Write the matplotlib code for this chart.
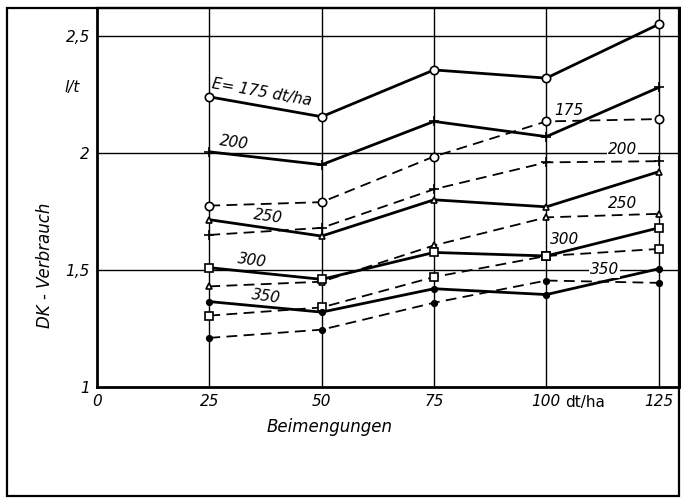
import numpy as np
import matplotlib.pyplot as plt
from matplotlib.patches import Rectangle

# Beimengungen (dt/ha)
x = [25, 50, 75, 100, 125]
ernte = ['175', '200', '250', '300', '350']

# DK-Verbrauch l/t, ausgezogene Linien
solid = {
    '175': [2.24, 2.155, 2.355, 2.32, 2.55],
    '200': [2.005, 1.95, 2.135, 2.07, 2.28],
    '250': [1.715, 1.645, 1.80, 1.77, 1.92],
    '300': [1.51, 1.46, 1.575, 1.56, 1.68],
    '350': [1.365, 1.32, 1.42, 1.395, 1.505],
}
# gestrichelte Linien
dashed = {
    '175': [1.775, 1.79, 1.985, 2.135, 2.145],
    '200': [1.65, 1.68, 1.845, 1.96, 1.965],
    '250': [1.43, 1.45, 1.605, 1.725, 1.74],
    '300': [1.305, 1.34, 1.47, 1.56, 1.59],
    '350': [1.21, 1.245, 1.36, 1.455, 1.445],
}

markers = {'175': 'o', '200': '+', '250': '^', '300': 's', '350': 'o'}
filled = {'175': False, '200': False, '250': False, '300': False, '350': True}
msize = {'175': 6, '200': 7, '250': 4.5, '300': 5.5, '350': 4}

plt.rcParams['font.family'] = ['Liberation Sans Narrow', 'DejaVu Sans']
plt.rcParams['font.style'] = 'italic'

fig = plt.figure(figsize=(6.81, 5.0), dpi=100)
ax = fig.add_axes([97/681, 1-387/500, 1-97/681-0.002, (387-8)/500])

# Rahmen aussen
fig.patches.append(Rectangle((7/681, 1-496/500), (679-7)/681, (496-8)/500,
                             transform=fig.transFigure, fill=False, lw=1.6, ec='k'))

for xv in x:
    ax.axvline(xv, color='k', lw=1.0, zorder=1)
for yv in [1.5, 2.0, 2.5]:
    ax.axhline(yv, color='k', lw=1.0, zorder=1)

for e in ernte:
    for data, ls, lw in [(solid[e], '-', 2.0), (dashed[e], (0, (6, 3.5)), 1.3)]:
        ax.plot(x, data, color='k', ls=ls, lw=lw, marker=markers[e], ms=msize[e],
                mfc='k' if filled[e] else 'white', mec='k', mew=1.2, zorder=3)

# Beschriftung der Kurven
box = dict(fc='white', ec='none', pad=0.5)
ax.text(36.6, 2.26, 'E= 175 dt/ha', rotation=-10, ha='center', va='center', fontsize=11, zorder=4)
ax.text(30.5, 2.045, '200', rotation=-8, ha='center', va='center', fontsize=11, zorder=4)
ax.text(38, 1.727, '250', rotation=-8, ha='center', va='center', fontsize=11, zorder=4)
ax.text(34.5, 1.54, '300', rotation=-8, ha='center', va='center', fontsize=11, zorder=4)
ax.text(37.7, 1.385, '350', rotation=-8, ha='center', va='center', fontsize=11, zorder=4)
ax.text(105, 2.18, '175', ha='center', va='center', fontsize=11, zorder=4)
ax.text(117, 2.017, '200', ha='center', va='center', fontsize=11, bbox=box, zorder=4)
ax.text(117, 1.786, '250', ha='center', va='center', fontsize=11, zorder=4)
ax.text(104, 1.63, '300', ha='center', va='center', fontsize=11, zorder=4)
ax.text(113, 1.50, '350', ha='center', va='center', fontsize=11, bbox=box, zorder=4)

ax.set_xlim(0, (681-97)/4.504)
ax.set_ylim(1, 1+(387-8)/234)
ax.set_xticks([0, 25, 50, 75, 100, 125])
ax.set_xticklabels(['0', '25', '50', '75', '100', '125'], fontsize=11)
ax.set_yticks([1, 1.5, 2, 2.5])
ax.set_yticklabels(['1', '1,5', '2', '2,5'], fontsize=11)
ax.tick_params(length=0, pad=5)
for s in ['left', 'bottom']:
    ax.spines[s].set_linewidth(2.0)
for s in ['top', 'right']:
    ax.spines[s].set_linewidth(1.6)

ax.text(104.2, 0.935, 'dt/ha', ha='left', va='center', fontsize=11, style='normal', clip_on=False)
ax.text(-5.5, 2.28, 'l/t', ha='center', va='center', fontsize=11, clip_on=False)
ax.text(-11.5, 1.52, 'DK - Verbrauch', rotation=90, ha='center', va='center', fontsize=12, clip_on=False)
ax.text(51.7, 0.83, 'Beimengungen', ha='center', va='center', fontsize=12, clip_on=False)

fig.savefig('out.png', dpi=100)
